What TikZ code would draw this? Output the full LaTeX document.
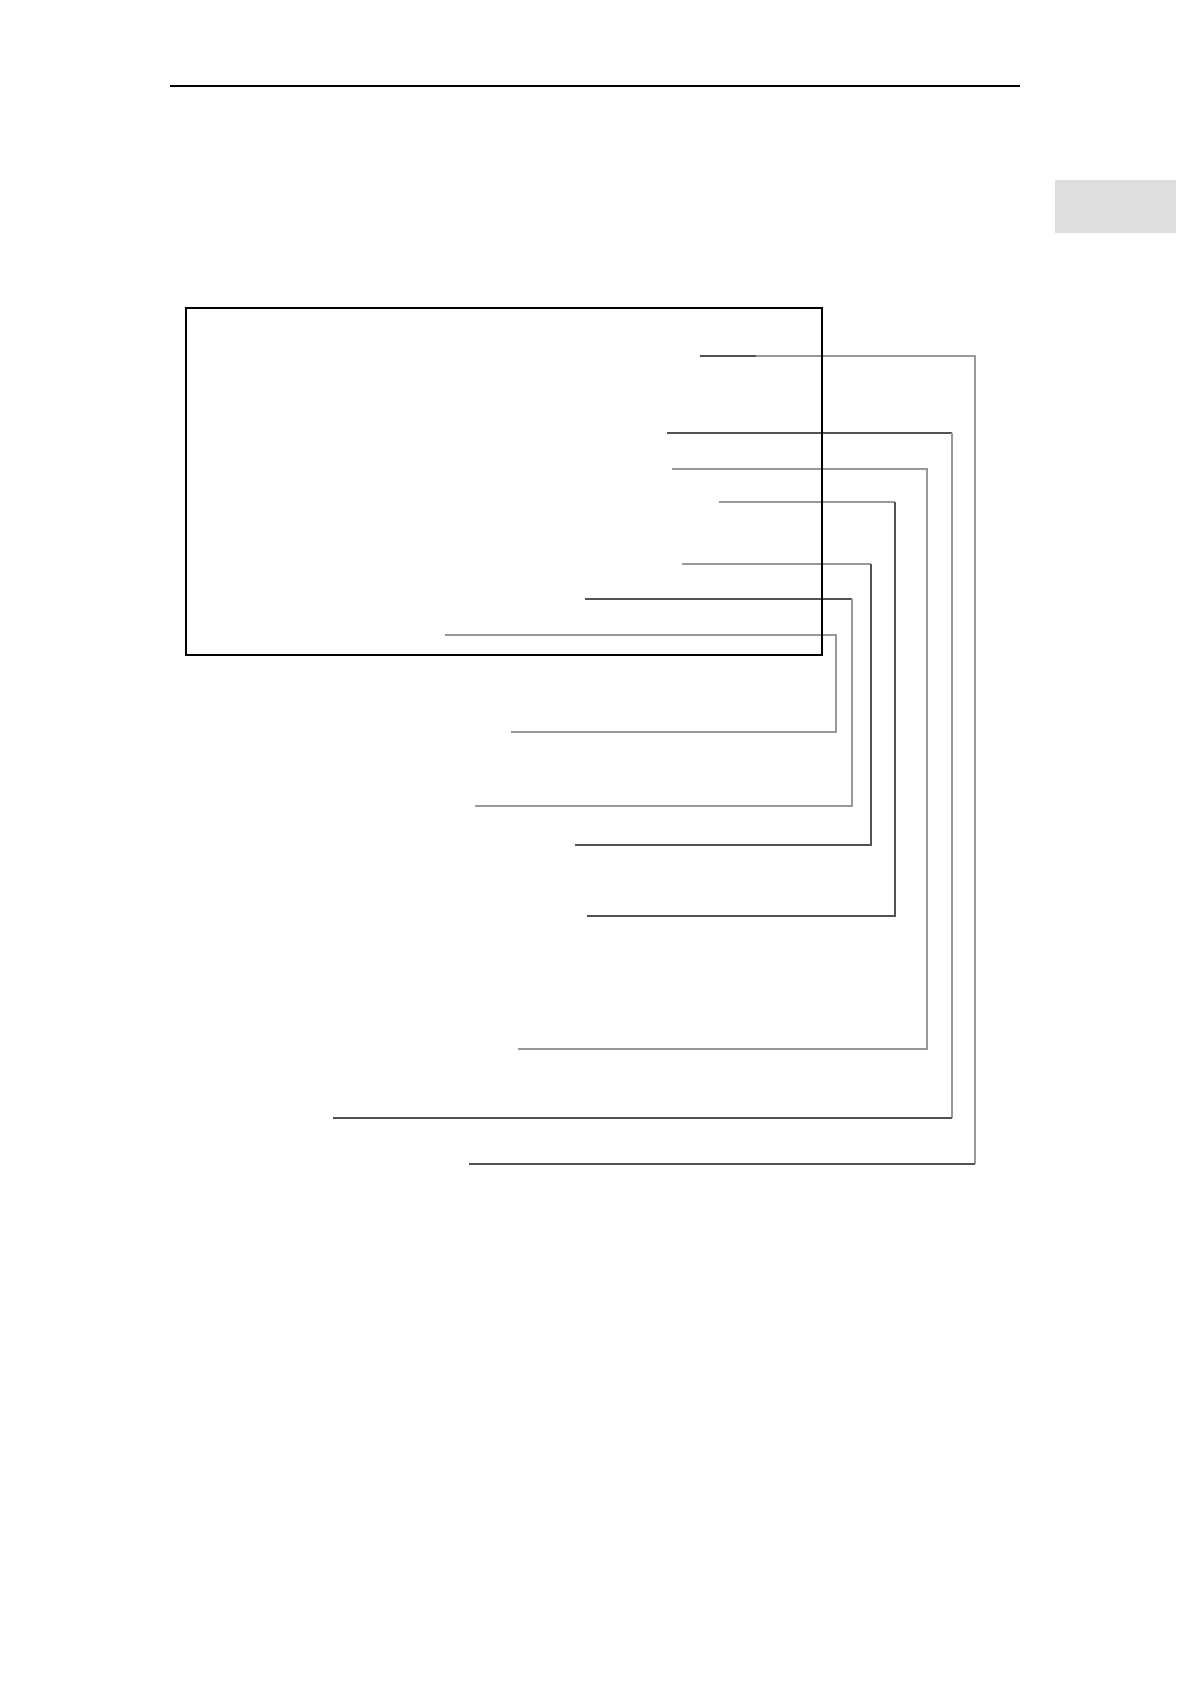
\documentclass[tikz,border=0pt]{standalone}
\begin{document}
\begin{tikzpicture}[x=0.5pt,y=-0.5pt,
  dk/.style={draw=black!68,line width=0.55pt},
  lt/.style={draw=black!40,line width=0.55pt},
  frame/.style={draw=black,line width=1.1pt,inner sep=0pt,outer sep=0pt,minimum width=318pt,minimum height=173.5pt,anchor=north west},
  tab/.style={fill=black!13,draw=none,inner sep=0pt,outer sep=0pt,minimum width=60.5pt,minimum height=26.5pt,anchor=north west}]
\useasboundingbox (0,0) rectangle (1190,1684);
\fill[white] (0,0) rectangle (1190,1684);
% header rule
\coordinate (hl) at (170,86);
\coordinate (hr) at (1020,86);
\draw[line width=1pt] (hl) -- (hr);
% grey tab
\node[tab] (tabbox) at (1055,180) {};
% main frame
\node[frame] (box) at (186,308) {};
% connector 1
\coordinate (s1) at (700,356);
\coordinate (m1) at (756,356);
\coordinate (a1) at (975,356);
\coordinate (b1) at (975,1164);
\coordinate (e1) at (469,1164);
\draw[dk] (s1) -- (m1);
\draw[lt] (m1) -- (a1) -- (b1);
\draw[dk] (b1) -- (e1);
% connector 2
\coordinate (s2) at (667,433);
\coordinate (a2) at (952,433);
\coordinate (b2) at (952,1118);
\coordinate (e2) at (333,1118);
\draw[dk] (s2) -- (a2);
\draw[lt] (a2) -- (b2);
\draw[dk] (b2) -- (e2);
% connector 3
\coordinate (s3) at (672,469);
\coordinate (a3) at (927,469);
\coordinate (b3) at (927,1049);
\coordinate (e3) at (518,1049);
\draw[lt] (s3) -- (a3) -- (b3) -- (e3);
% connector 4
\coordinate (s4) at (719,502);
\coordinate (a4) at (895,502);
\coordinate (b4) at (895,916);
\coordinate (e4) at (587,916);
\draw[lt] (s4) -- (a4);
\draw[dk] (a4) -- (b4) -- (e4);
% connector 5
\coordinate (s5) at (682,564);
\coordinate (a5) at (871,564);
\coordinate (b5) at (871,845);
\coordinate (e5) at (575,845);
\draw[lt] (s5) -- (a5);
\draw[dk] (a5) -- (b5) -- (e5);
% connector 6
\coordinate (s6) at (585,599);
\coordinate (a6) at (852,599);
\coordinate (b6) at (852,806);
\coordinate (e6) at (475,806);
\draw[dk] (s6) -- (a6);
\draw[lt] (a6) -- (b6) -- (e6);
% connector 7
\coordinate (s7) at (445,635);
\coordinate (a7) at (836,635);
\coordinate (b7) at (836,732);
\coordinate (e7) at (511,732);
\draw[lt] (s7) -- (a7) -- (b7) -- (e7);
% redraw frame edge on top
\draw[line width=1.1pt] (box.north east) -- (box.south east);
\end{tikzpicture}
\end{document}
